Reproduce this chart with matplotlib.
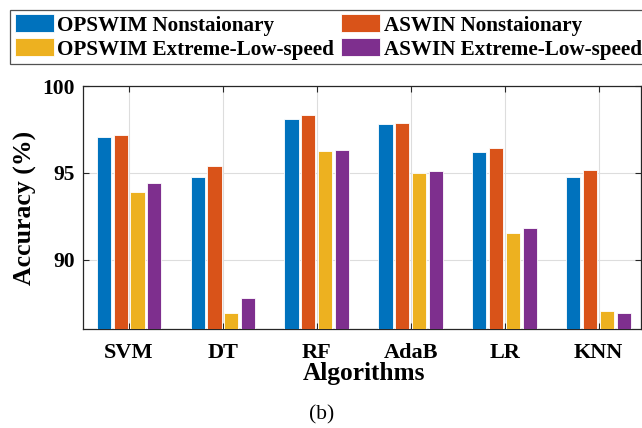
import matplotlib.pyplot as plt
import numpy as np

plt.rcParams["font.family"] = ["Liberation Serif", "DejaVu Serif"]

algorithms = ["SVM", "DT", "RF", "AdaB", "LR", "KNN"]
series_names = [
    "OPSWIM Nonstaionary",
    "ASWIN Nonstaionary",
    "OPSWIM Extreme-Low-speed",
    "ASWIN Extreme-Low-speed",
]
opswim_nonstat = [97.09, 94.77, 98.08, 97.82, 96.19, 94.73]
aswin_nonstat = [97.18, 95.38, 98.31, 97.87, 96.42, 95.17]
opswim_els = [93.87, 86.95, 96.24, 94.96, 91.51, 87.03]
aswin_els = [94.39, 87.80, 96.30, 95.11, 91.80, 86.91]

colors = ["#0072BD", "#D95319", "#EDB120", "#7E2F8E"]
values = [opswim_nonstat, aswin_nonstat, opswim_els, aswin_els]

fig = plt.figure(figsize=(6.42, 4.28), dpi=100)
ax = fig.add_axes([0.1293, 0.2313, 0.8691, 0.5677])

x = np.arange(1, len(algorithms) + 1)
step = 0.18
width = 0.15
handles = []
for i, (vals, col, name) in enumerate(zip(values, colors, series_names)):
    b = ax.bar(x + (i - 1.5) * step, np.array(vals) - 86, width=width, bottom=86,
               color=col, edgecolor="white", linewidth=0.6, label=name, zorder=3)
    handles.append(b)

ax.set_xlim(0.51, 6.45)
ax.set_ylim(86, 100)
ax.set_xticks(x)
ax.set_xticklabels(algorithms, fontsize=16, fontweight="bold")
ax.set_yticks([90, 95, 100])
ax.set_yticklabels(["90", "95", "100"], fontsize=15.5, fontweight="bold")
ax.tick_params(axis="both", direction="in", length=4,
               top=True, right=True, color="#262626", width=0.8)
ax.tick_params(axis="x", pad=10)
ax.tick_params(axis="y", pad=6)
ax.grid(True, color="#dddddd", linewidth=0.8, zorder=0)
for sp in ax.spines.values():
    sp.set_color("#262626")
    sp.set_linewidth(0.9)

ax.set_ylabel("Accuracy (%)", fontsize=18.5, fontweight="bold")
ax.yaxis.set_label_coords(-0.082, 0.5)
ax.set_xlabel("Algorithms", fontsize=18.3, fontweight="bold")
ax.xaxis.set_label_coords(0.503, -0.135)

fig.text(0.5016, 0.031, "(b)", fontsize=15.5, ha="center", va="center")

# row-wise legend: reorder so that ncol=2 fills across
order = [0, 2, 1, 3]
leg = fig.legend(handles=[handles[k] for k in order],
                 labels=[series_names[k] for k in order], ncol=2,
                 loc="upper left", bbox_to_anchor=(0.0156, 0.977),
                 prop={"size": 15.2, "weight": "bold"},
                 frameon=True, fancybox=False, edgecolor="#262626",
                 handlelength=1.85, handleheight=0.9, handletextpad=0.15,
                 columnspacing=0.36, labelspacing=0.14, borderpad=0.22,
                 borderaxespad=0)
leg.get_frame().set_linewidth(0.9)

fig.savefig("out.png", dpi=100)
